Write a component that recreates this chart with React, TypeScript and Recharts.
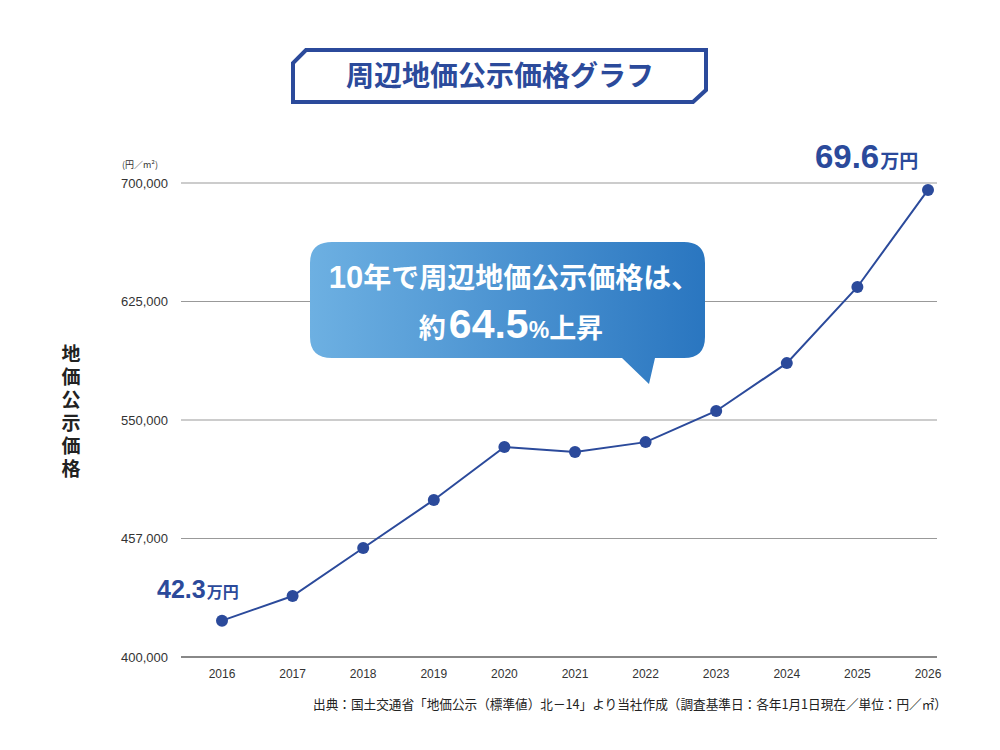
import { LineChart, Line, XAxis, YAxis, CartesianGrid, LabelList } from 'recharts';

const years = ['2016', '2017', '2018', '2019', '2020', '2021', '2022', '2023', '2024', '2025', '2026'];
const prices = [423000, 438600, 469000, 499400, 532900, 529700, 536000, 555700, 586000, 634200, 695600];
const yTicks = [400000, 475000, 550000, 625000, 700000];
const yTickLabels = ['400,000', '457,000', '550,000', '625,000', '700,000'];
const endLabels = ['42.3', '69.6'];

const data = years.map((year, i) => ({ year, price: prices[i] }));

const BLUE = '#2b4a9b';
const JP = '"Noto Sans CJK JP", "Noto Sans", sans-serif';
const LAT = '"Liberation Sans", Arial, sans-serif';

const EndLabel = (props: any) => {
  const { x, y, index } = props;
  if (index === 0) {
    return (
      <text x={x - 65} y={y - 23} fill={BLUE} fontFamily={LAT} fontWeight="bold">
        <tspan fontSize={25}>{endLabels[0]}</tspan>
        <tspan fontSize={16} fontFamily={JP} dx={1}>万円</tspan>
      </text>
    );
  }
  if (index === years.length - 1) {
    return (
      <text x={x - 113} y={y - 22} fill={BLUE} fontFamily={LAT} fontWeight="bold">
        <tspan fontSize={33}>{endLabels[1]}</tspan>
        <tspan fontSize={19} fontFamily={JP} dx={1}>万円</tspan>
      </text>
    );
  }
  return null;
};

export default function App() {
  return (
    <div style={{ position: 'absolute', left: 0, top: 0, width: 1000, height: 750, background: '#fff' }}>
      <LineChart
        width={1000}
        height={750}
        data={data}
        margin={{ top: 183, right: 63, left: 121, bottom: 63 }}
      >
        <CartesianGrid vertical={false} stroke="#999" strokeWidth={1} />
        <XAxis
          dataKey="year"
          padding={{ left: 41, right: 9 }}
          axisLine={{ stroke: '#888', strokeWidth: 2 }}
          tickLine={false}
          tickSize={0}
          tickMargin={12}
          height={30}
          tick={{ fontSize: 12, fill: '#333', fontFamily: LAT }}
          interval={0}
        />
        <YAxis
          type="number"
          domain={[400000, 700000]}
          ticks={yTicks}
          tickFormatter={(v: number) => yTickLabels[yTicks.indexOf(v)] ?? String(v)}
          axisLine={false}
          tickLine={false}
          tickSize={0}
          tickMargin={13}
          width={60}
          tick={{ fontSize: 13, fill: '#333', fontFamily: LAT }}
        />
        <Line
          type="linear"
          dataKey="price"
          stroke={BLUE}
          strokeWidth={2}
          dot={{ r: 6, fill: BLUE, stroke: BLUE, strokeWidth: 0 }}
          isAnimationActive={false}
        >
          <LabelList dataKey="price" content={EndLabel} />
        </Line>
      </LineChart>

      <svg
        width={1000}
        height={750}
        style={{ position: 'absolute', left: 0, top: 0, pointerEvents: 'none' }}
      >
        <defs>
          <linearGradient id="bubble" x1="0" y1="0" x2="1" y2="0">
            <stop offset="0%" stopColor="#6db0e2" />
            <stop offset="100%" stopColor="#2a76c0" />
          </linearGradient>
        </defs>

        {/* title box */}
        <path
          d="M306,50 L706,50 L706,90 L693,102 L293,102 L293,63 Z"
          fill="#fff"
          stroke={BLUE}
          strokeWidth={4}
        />
        <text x={500} y={86} textAnchor="middle" fill={BLUE} fontFamily={JP} fontWeight="bold" fontSize={28}>
          周辺地価公示価格グラフ
        </text>

        {/* speech bubble */}
        <path
          d="M332,242 L684,242 Q705,242 705,263 L705,337 Q705,358 684,358 L655,358 L649,384 L622,358 L332,358 Q310,358 310,337 L310,263 Q310,242 332,242 Z"
          fill="url(#bubble)"
        />
        <text x={514} y={288} textAnchor="middle" fill="#fff" fontFamily={JP} fontWeight="bold" fontSize={28}>
          <tspan fontFamily={LAT} fontSize={31}>10</tspan>年で周辺地価公示価格は、
        </text>
        <text x={511} y={338} textAnchor="middle" fill="#fff" fontFamily={JP} fontWeight="bold" fontSize={27}>
          約<tspan fontFamily={LAT} fontSize={41} dx={3}>64.5</tspan>
          <tspan fontFamily={LAT} fontSize={23}>%</tspan>上昇
        </text>

        {/* unit */}
        <text x={140} y={168} textAnchor="middle" fill="#333" fontFamily={JP} fontSize={9}>
          (円／m²)
        </text>

        {/* vertical axis title */}
        <text
          x={71}
          y={344}
          fill="#222"
          fontFamily={JP}
          fontWeight="bold"
          fontSize={19}
          letterSpacing={4}
          style={{ writingMode: 'vertical-rl' }}
        >
          地価公示価格
        </text>

        {/* source */}
        <text
          x={947}
          y={709}
          textAnchor="end"
          fill="#222"
          fontFamily={JP}
          fontSize={13}
          textLength={634}
          lengthAdjust="spacingAndGlyphs"
        >
          出典：国土交通省「地価公示（標準値）北－14」より当社作成（調査基準日：各年1月1日現在／単位：円／㎡）
        </text>
      </svg>
    </div>
  );
}
